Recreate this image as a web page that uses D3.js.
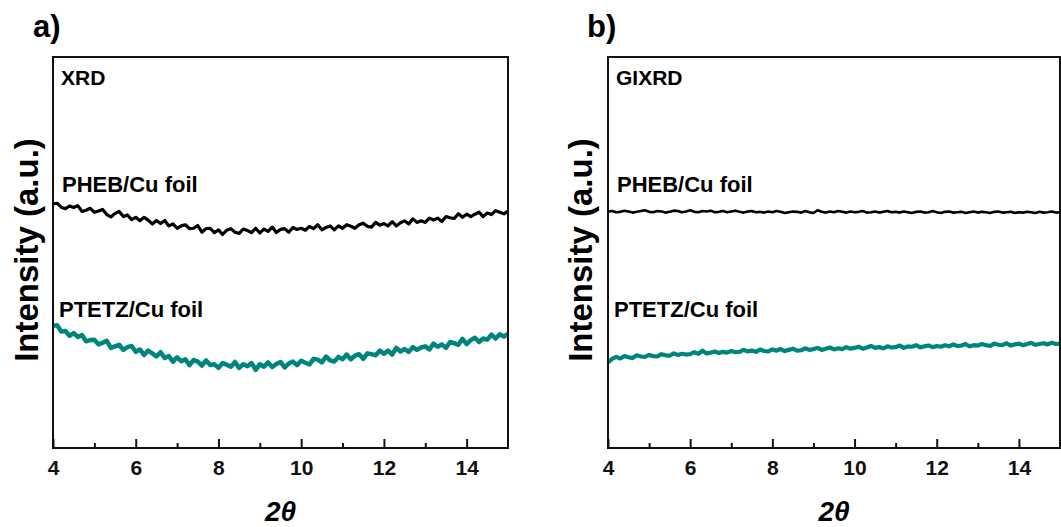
<!DOCTYPE html>
<html>
<head>
<meta charset="utf-8">
<script src="https://cdn.jsdelivr.net/npm/d3@7"></script>
<style>
  body { margin: 0; background: #fff; }
  text { font-family: "Liberation Sans", Arial, sans-serif; font-weight: bold; }
</style>
</head>
<body>
<svg id="chart" width="1061" height="527"></svg>
<script>
// 2theta grid, 0.1 deg steps from 4 to 15
var twoTheta = d3.range(0, 111).map(function(i) { return +(4 + i * 0.1).toFixed(1); });

// panel a) XRD, intensity in arbitrary units
var xrdPHEB = [
  62.4, 62.6, 61.6, 61.2, 61.9, 61.5, 62.0, 60.5, 60.8, 61.3,
  60.3, 60.6, 61.0, 59.7, 59.1, 60.0, 60.5, 59.2, 59.6, 58.4,
  59.0, 58.1, 59.0, 58.3, 57.3, 58.2, 57.4, 58.2, 56.8, 57.3,
  56.2, 56.8, 57.1, 56.1, 56.2, 56.9, 55.2, 56.1, 56.2, 55.1,
  55.8, 54.6, 55.7, 56.1, 55.2, 54.9, 56.0, 55.6, 55.1, 56.2,
  55.0, 56.0, 55.4, 56.5, 55.1, 55.9, 56.1, 55.2, 56.4, 55.9,
  56.2, 55.7, 56.7, 56.1, 57.1, 55.8, 56.4, 56.8, 55.8, 56.8,
  56.2, 57.1, 56.7, 56.2, 57.1, 57.5, 56.7, 56.5, 57.7, 57.0,
  57.4, 56.8, 57.9, 56.8, 57.6, 58.1, 57.3, 58.6, 57.7, 58.1,
  57.7, 58.8, 58.3, 58.8, 57.9, 59.2, 58.9, 58.7, 59.9, 59.0,
  59.8, 59.2, 59.8, 60.3, 59.2, 60.1, 59.7, 60.7, 60.3, 59.9,
  60.6
];
var xrdPTETZ = [
  31.3, 31.4, 29.8, 29.9, 28.7, 29.4, 28.4, 28.9, 27.3, 27.6,
  27.7, 26.5, 26.9, 27.4, 25.6, 26.0, 26.4, 25.1, 25.8, 26.1,
  24.6, 25.2, 23.8, 24.9, 24.2, 23.4, 24.5, 23.0, 23.5, 22.1,
  23.2, 22.2, 22.7, 21.2, 22.5, 22.1, 21.1, 22.4, 21.2, 21.4,
  20.5, 21.7, 21.3, 20.8, 22.0, 20.5, 21.4, 20.9, 21.7, 20.0,
  21.4, 20.8, 21.9, 20.7, 21.5, 22.0, 20.6, 21.6, 22.1, 21.2,
  22.3, 21.8, 21.4, 22.8, 22.6, 21.9, 23.4, 22.4, 22.1, 23.3,
  22.7, 23.9, 22.7, 23.6, 24.0, 22.8, 24.2, 24.0, 23.7, 24.9,
  24.1, 24.9, 23.9, 25.6, 24.7, 25.3, 24.6, 25.8, 25.1, 25.7,
  26.0, 25.2, 26.7, 25.9, 26.5, 25.6, 27.1, 26.8, 26.4, 27.9,
  26.6, 27.6, 28.2, 27.1, 28.0, 27.7, 29.0, 28.0, 29.1, 28.5,
  29.2
];

// panel b) GIXRD
var gixrdPHEB = [
  60.5, 60.6, 60.3, 60.4, 60.7, 60.5, 60.2, 60.4, 60.6, 60.8,
  60.4, 60.3, 60.6, 60.5, 60.2, 60.4, 60.7, 60.6, 60.3, 60.5,
  60.8, 60.4, 60.3, 60.6, 60.5, 60.7, 60.3, 60.4, 60.6, 60.3,
  60.5, 60.7, 60.4, 60.2, 60.5, 60.6, 60.3, 60.4, 60.2, 60.5,
  60.3, 60.6, 60.4, 60.1, 60.3, 60.5, 60.4, 60.2, 60.6, 60.3,
  60.1, 60.8, 60.4, 60.2, 60.5, 60.3, 60.6, 60.4, 60.2, 60.5,
  60.3, 60.4, 60.6, 60.2, 60.3, 60.5, 60.2, 60.4, 60.6, 60.3,
  60.4, 60.2, 60.5, 60.3, 60.1, 60.4, 60.5, 60.2, 60.3, 60.6,
  60.3, 60.1, 60.4, 60.5, 60.2, 60.3, 60.4, 60.1, 60.3, 60.5,
  60.2, 60.4, 60.3, 60.1, 60.4, 60.5, 60.2, 60.3, 60.4, 60.1,
  60.3, 60.2, 60.4, 60.3, 60.1, 60.4, 60.2, 60.3, 60.5, 60.2,
  60.3
];
var gixrdPTETZ = [
  21.9, 22.8, 23.3, 22.9, 23.5, 23.2, 23.0, 23.7, 23.4, 23.3,
  23.8, 23.5, 23.4, 24.0, 23.7, 23.6, 24.2, 23.8, 24.1, 23.9,
  24.0, 24.5, 24.1, 24.9, 24.2, 24.4, 24.7, 24.3, 24.6, 24.4,
  24.8, 24.5, 24.6, 25.1, 24.7, 24.9, 24.6, 25.2, 24.8, 24.7,
  25.2, 24.9, 25.3, 24.8, 25.1, 25.4, 24.9, 25.0, 25.5, 25.1,
  25.3, 25.6, 25.1, 25.4, 25.7, 25.2, 25.5, 25.3, 25.8, 25.4,
  25.6, 25.9, 25.4, 25.7, 26.1, 25.6, 25.8, 25.5, 26.0, 25.7,
  25.8, 26.2, 25.6, 26.0, 25.9, 26.3, 25.7, 26.0, 26.2, 25.8,
  26.1, 25.9, 26.3, 26.0, 26.5, 26.1, 26.2, 26.6, 26.0, 26.3,
  26.2, 26.6, 26.3, 26.1, 26.7, 26.4, 26.3, 26.8, 26.2, 26.5,
  26.7, 26.3, 26.6, 26.9, 26.4, 26.6, 26.8, 26.5, 26.9, 26.6,
  26.7
];

var majorTicks = [4, 6, 8, 10, 12, 14];
var minorTicks = [5, 7, 9, 11, 13];
var seriesNames = ["PHEB/Cu foil", "PTETZ/Cu foil"];
var teal = "#00857d";

var svg = d3.select("#chart");

var plotTop = 57, plotBottom = 448;
var y = d3.scaleLinear().domain([0, 100]).range([plotBottom, plotTop]);

function drawPanel(opts) {
  var x = d3.scaleLinear().domain([4, 15]).range([opts.left, opts.right]);
  var g = svg.append("g");

  var line = d3.line()
    .x(function(d, i) { return x(twoTheta[i]); })
    .y(function(d) { return y(d); });

  // curves
  g.append("path").datum(opts.upper)
    .attr("d", line).attr("fill", "none")
    .attr("stroke", "#000").attr("stroke-width", opts.upperWidth)
    .attr("stroke-linejoin", "round");
  g.append("path").datum(opts.lower)
    .attr("d", line).attr("fill", "none")
    .attr("stroke", teal).attr("stroke-width", opts.lowerWidth)
    .attr("stroke-linejoin", "round");

  // frame
  g.append("rect")
    .attr("x", opts.left).attr("y", plotTop)
    .attr("width", opts.right - opts.left).attr("height", plotBottom - plotTop)
    .attr("fill", "none").attr("stroke", "#111").attr("stroke-width", 2);

  // x axis, ticks pointing inward
  var axis = g.append("g").attr("transform", "translate(0," + plotBottom + ")")
    .call(d3.axisBottom(x).tickValues(majorTicks).tickFormat(d3.format("d"))
      .tickSizeInner(-9).tickSizeOuter(0).tickPadding(12));
  axis.select(".domain").remove();
  axis.selectAll("line").attr("stroke", "#111").attr("stroke-width", 2);
  axis.selectAll("text").attr("font-size", 21).attr("fill", "#111")
    .style("font-family", "Liberation Sans, Arial, sans-serif").style("font-weight", "bold");

  var minor = g.append("g").attr("transform", "translate(0," + plotBottom + ")")
    .call(d3.axisBottom(x).tickValues(minorTicks).tickFormat("")
      .tickSizeInner(-5).tickSizeOuter(0));
  minor.select(".domain").remove();
  minor.selectAll("line").attr("stroke", "#111").attr("stroke-width", 2);

  // x title
  g.append("text")
    .attr("x", (opts.left + opts.right) / 2).attr("y", 521)
    .attr("text-anchor", "middle").attr("font-size", 28)
    .attr("font-style", "italic").text("2θ");

  // y title
  g.append("text")
    .attr("transform", "translate(" + opts.yTitleX + "," + 250 + ") rotate(-90)")
    .attr("text-anchor", "middle").attr("font-size", 33)
    .text("Intensity (a.u.)");

  // panel letter
  g.append("text").attr("x", opts.letterX).attr("y", 37)
    .attr("font-size", 31).text(opts.letter);

  // method label
  g.append("text").attr("x", opts.left + 8).attr("y", 85)
    .attr("font-size", 21).text(opts.method);

  // series labels
  g.append("text").attr("x", opts.left + 9).attr("y", 192)
    .attr("font-size", 22).text(seriesNames[0]);
  g.append("text").attr("x", opts.left + 6).attr("y", 317)
    .attr("font-size", 22).text(seriesNames[1]);
}

drawPanel({
  left: 53, right: 508, letter: "a)", letterX: 33, method: "XRD",
  yTitleX: 38, upper: xrdPHEB, lower: xrdPTETZ, upperWidth: 3.2, lowerWidth: 4.5
});
drawPanel({
  left: 608, right: 1060, letter: "b)", letterX: 587, method: "GIXRD",
  yTitleX: 592, upper: gixrdPHEB, lower: gixrdPTETZ, upperWidth: 2.6, lowerWidth: 4.2
});
</script>
</body>
</html>
